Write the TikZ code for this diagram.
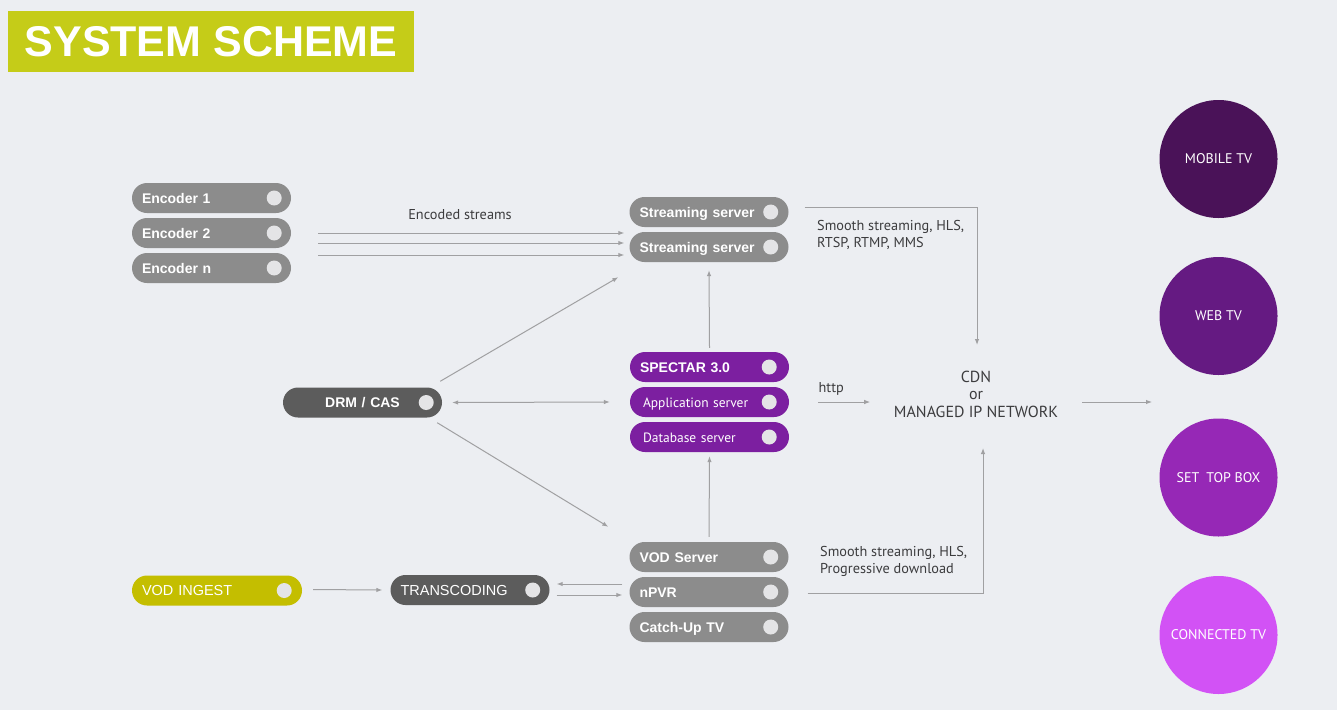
\documentclass[tikz,border=0pt]{standalone}
\usepackage{fontspec}
\setmainfont{Liberation Sans}
\newfontfamily\gill{PT Sans}
\usetikzlibrary{arrows.meta,calc,positioning}
\definecolor{bg}{RGB}{236,238,242}
\definecolor{lime}{RGB}{197,204,24}
\definecolor{olive}{RGB}{196,190,0}
\definecolor{pillgray}{RGB}{140,140,140}
\definecolor{darkpill}{RGB}{92,92,92}
\definecolor{spectar}{RGB}{124,31,160}
\definecolor{dotgray}{RGB}{228,228,230}
\definecolor{linegray}{RGB}{160,160,162}
\definecolor{labelgray}{RGB}{60,60,62}
\definecolor{mobiletv}{RGB}{74,18,88}
\definecolor{webtv}{RGB}{101,26,130}
\definecolor{stb}{RGB}{150,40,182}
\definecolor{conntv}{RGB}{210,82,245}
\begin{document}
\begin{tikzpicture}[x=1pt,y=-1pt,>={Latex[length=6pt,width=4.5pt]}]
\tikzstyle{pill} = [rounded corners=15pt, minimum width=159pt, minimum height=30pt, inner xsep=10pt, inner ysep=0pt, text width=139pt, text height=10pt, text depth=0pt, align=left, text=white, font=\bfseries\fontsize{14}{16}\selectfont]
\tikzstyle{thin} = [font=\mdseries\fontsize{14.5}{16}\selectfont]
\tikzstyle{gillpill} = [inner xsep=13pt, text width=133pt, font=\gill\fontsize{13.5}{16}\selectfont]
\tikzstyle{dot} = [circle, fill=dotgray, minimum size=15pt, inner sep=0pt]
\tikzstyle{arr} = [draw=linegray, line width=1pt, ->]
\tikzstyle{note} = [font=\gill\fontsize{14.3}{17}\selectfont, text=labelgray, align=left, inner sep=0pt]
\tikzstyle{client} = [circle, minimum size=118pt, inner sep=0pt, text=white, font=\gill\fontsize{14}{16}\selectfont]
\fill[bg] (0,0) rectangle (1337,710);
\useasboundingbox (0,0) rectangle (1337,710);
\node[fill=lime, minimum width=406pt, minimum height=61pt, inner sep=0pt, text=white, font=\bfseries\fontsize{43}{43}\selectfont] (title) at (211,41.5) {SYSTEM SCHEME};
% encoders and streaming servers
\foreach \n/\t [count=\i] in {enc1/Encoder 1, enc2/Encoder 2, encn/Encoder n}
  \node[pill, fill=pillgray] (\n) at (211.5,163+35*\i) {\t};
\foreach \n [count=\i] in {ss1,ss2}
  \node[pill, fill=pillgray] (\n) at (709,177+35*\i) {Streaming server};
% middleware
\node[pill, fill=spectar] (spectar) at (709.5,367) {SPECTAR 3.0};
\node[pill, gillpill, fill=spectar] (app) at (709.5,402) {Application server};
\node[pill, gillpill, fill=spectar] (db) at (709.5,437) {Database server};
\node[pill, fill=darkpill, align=center] (drm) at (362.5,402.5) {DRM / CAS};
% vod
\node[pill, fill=pillgray] (vod) at (709,557) {VOD Server};
\node[pill, fill=pillgray] (npvr) at (709,592) {nPVR};
\node[pill, fill=pillgray] (catchup) at (709,627) {Catch-Up TV};
\node[pill, thin, fill=olive, minimum width=170pt, text width=150pt] (ingest) at (217,590.5) {VOD INGEST};
\node[pill, thin, fill=darkpill] (trans) at (470,590) {TRANSCODING};
\foreach \n/\d in {enc1/17,enc2/17,encn/17,ss1/18,ss2/18,spectar/20,app/20,db/20,drm/16,vod/18,npvr/18,catchup/18,ingest/18,trans/17}
  \node[dot] (\n-dot) at ($(\n.east)+(-\d,0)$) {};
% network and clients
\node[note, align=center, font=\gill\fontsize{16}{17.5}\selectfont] (cdn) at (976,394) {CDN\\or\\MANAGED IP NETWORK};
\node[client, fill=mobiletv] (mobile) at (1218.5,159) {MOBILE TV};
\node[client, fill=webtv] (web) at (1218.5,316) {WEB TV};
\node[client, fill=stb] (stbox) at (1218.5,477.5) {SET\enspace TOP BOX};
\node[client, fill=conntv] (conn) at (1218.5,635) {CONNECTED TV};
% connectors
\foreach \dy in {0,10,22}
  \draw[arr] ($(enc2.east)+(27,\dy)$) -- ($(enc2.east -| ss2.west)+(-5,\dy)$);
\node[note] (encoded) at (460,215) {Encoded streams};
\draw[arr] ($(drm.north east)+(-2,-6)$) -- ($(ss2.south west)+(-11,15)$);
\draw[arr, <->] ($(drm.east)+(10,0)$) -- ($(app.west)+(-20,0)$);
\draw[arr] ($(drm.south east)+(-5,5)$) -- ($(vod.north west)+(-21,-15)$);
\draw[arr] ($(spectar.north)+(0,-4)$) -- ($(ss2.south)+(0,8)$);
\draw[arr] ($(vod.north)+(0,-5)$) -- ($(db.south)+(0,4)$);
\draw[arr] ($(ss1.east)+(16,-5)$) -| ($(cdn.center)+(1,-49)$);
\node[note, anchor=north west] (proto1) at (817,220) {Smooth streaming, HLS,\\RTSP, RTMP, MMS};
\draw[arr] ($(app.east)+(29,0)$) -- node[note, above=6pt, pos=0.25] (http) {http} ($(app.east)+(81,0)$);
\draw[arr] ($(npvr.east)+(19,1)$) -| ($(cdn.center)+(7,54)$);
\node[note, anchor=north west] (proto2) at (820,546) {Smooth streaming, HLS,\\Progressive download};
\draw[arr] ($(cdn.center)+(106,8)$) -- ($(cdn.center)+(176,8)$);
\draw[arr] ($(ingest.east)+(11,-1)$) -- ($(trans.west)+(-8,0)$);
\draw[arr] ($(npvr.west)+(-7,-8)$) -- ($(trans.east)+(7,-6)$);
\draw[arr] ($(trans.east)+(7,5)$) -- ($(npvr.west)+(-7,3)$);
\end{tikzpicture}
\end{document}
